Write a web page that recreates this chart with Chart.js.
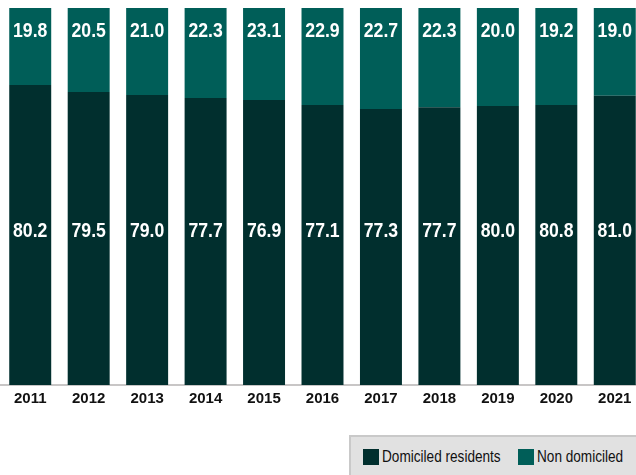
<!DOCTYPE html>
<html>
<head>
<meta charset="utf-8">
<script src="https://cdn.jsdelivr.net/npm/chart.js@4"></script>
<style>
  body { margin: 0; width: 636px; height: 475px; overflow: hidden; background: #fff; position: relative; }
  #wrap { position: absolute; left: 0; top: 0; width: 645px; height: 415px; }
  #legend {
    position: absolute; left: 349px; top: 435px; width: 300px; height: 44px;
    background: #e1e1e1; border: 2px solid #c9c9c9; box-sizing: border-box;
    font-family: "Liberation Sans", Arial, sans-serif;
    font-size: 17px; color: #111;
  }
  .sw { position: absolute; top: 12px; width: 16px; height: 16px; }
  .txt { position: absolute; top: 11px; line-height: 18px; white-space: nowrap; transform: scaleX(0.8); transform-origin: left center; }
</style>
</head>
<body>
<div id="wrap"><canvas id="chart"></canvas></div>
<div id="legend">
  <span class="sw" style="left:12px;background:#012f2e"></span><span class="txt" style="left:31px">Domiciled residents</span>
  <span class="sw" style="left:167px;background:#005e58"></span><span class="txt" style="left:186px">Non domiciled</span>
</div>
<script>
const years = ["2011", "2012", "2013", "2014", "2015", "2016", "2017", "2018", "2019", "2020", "2021"];
// printed numbers
const domiciledText = [80.2, 79.5, 79.0, 77.7, 76.9, 77.1, 77.3, 77.7, 80.0, 80.8, 81.0];
const nonDomiciledText = [19.8, 20.5, 21.0, 22.3, 23.1, 22.9, 22.7, 22.3, 20.0, 19.2, 19.0];
// segment heights as drawn in the picture
const domiciled = [79.6, 77.7, 76.9, 76.1, 75.6, 74.3, 73.2, 73.7, 74.0, 74.3, 76.7];
const nonDomiciled = [20.4, 22.3, 23.1, 23.9, 24.4, 25.7, 26.8, 26.3, 26.0, 25.7, 23.3];

const labelFont = "bold 21px 'Liberation Sans', Arial, sans-serif";

// draws the numbers inside the bars
const barLabels = {
  id: "barLabels",
  afterDatasetsDraw(chart) {
    const ctx = chart.ctx;
    const yScale = chart.scales.y;
    const texts = [domiciledText, nonDomiciledText];
    ctx.save();
    ctx.font = labelFont;
    ctx.fillStyle = "#ffffff";
    ctx.textAlign = "center";
    ctx.textBaseline = "middle";
    chart.data.datasets.forEach((ds, i) => {
      const y = yScale.getPixelForValue(i === 0 ? 40.8 : 93.9);
      chart.getDatasetMeta(i).data.forEach((bar, j) => {
        ctx.save();
        ctx.translate(bar.x, y);
        ctx.scale(0.84, 1);
        ctx.fillText(texts[i][j].toFixed(1), 0, 0);
        ctx.restore();
      });
    });
    ctx.restore();
  }
};

new Chart(document.getElementById("chart"), {
  type: "bar",
  data: {
    labels: years,
    datasets: [
      { label: "Domiciled residents", data: domiciled, backgroundColor: "#012f2e" },
      { label: "Non domiciled", data: nonDomiciled, backgroundColor: "#005e58" }
    ]
  },
  options: {
    responsive: true,
    maintainAspectRatio: false,
    animation: false,
    devicePixelRatio: 1,
    layout: { padding: { top: 8, left: 1, right: 1, bottom: 0 } },
    datasets: { bar: { categoryPercentage: 1, barPercentage: 0.718 } },
    plugins: { legend: { display: false }, tooltip: { enabled: false } },
    scales: {
      x: {
        stacked: true,
        grid: { display: false, drawTicks: false },
        border: { display: true, color: "#c8c6c6", width: 2 },
        ticks: {
          color: "#111",
          padding: 5,
          font: { family: "'Liberation Sans', Arial, sans-serif", size: 15, weight: "bold" }
        },
        afterFit: (s) => { s.height = 30; }
      },
      y: { stacked: true, display: false, min: 0, max: 100 }
    }
  },
  plugins: [barLabels]
});
</script>
</body>
</html>
